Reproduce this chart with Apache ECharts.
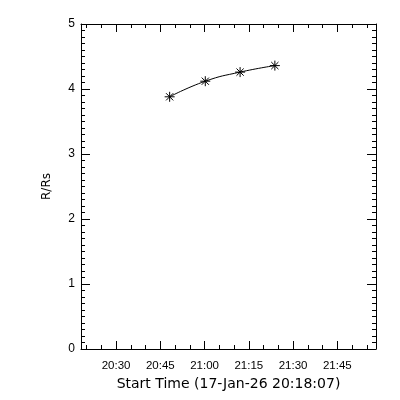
<!DOCTYPE html>
<html>
<head>
<meta charset="utf-8">
<script src="https://cdn.jsdelivr.net/npm/echarts@6/dist/echarts.min.js"></script>
<style>html,body{margin:0;padding:0;background:#fff}#c{width:400px;height:400px}</style>
</head>
<body>
<div id="c"></div>
<script>
// Data
const startTime = '20:18:07';
const endTime = '21:58:07';
const tickLabels = ['20:30', '20:45', '21:00', '21:15', '21:30', '21:45'];
const minorTickTimes = ['20:20','20:25','20:35','20:40','20:50','20:55','21:05','21:10','21:20','21:25','21:35','21:40','21:50','21:55'];
const obsTimes = ['20:48:10', '21:00:15', '21:12:03', '21:23:50'];
const radii = [3.88, 4.12, 4.26, 4.36];
const yTicks = [0, 1, 2, 3, 4, 5];

function toMin(s) { // minutes after 20:00
  const p = s.split(':').map(Number);
  return (p[0] - 20) * 60 + p[1] + (p[2] || 0) / 60;
}
function fmt(v) {
  const tot = Math.round(v);
  const h = 20 + Math.floor(tot / 60), m = tot % 60;
  return h + ':' + String(m).padStart(2, '0');
}
const xMin = toMin(startTime), xMax = toMin(endTime);
const majors = tickLabels.map(toMin);
const minors = minorTickTimes.map(toMin);
const seriesData = obsTimes.map((t, i) => [toMin(t), radii[i]]);

const black = '#000';
const baseX = {
  type: 'value', min: xMin, max: xMax, splitLine: { show: false },
  axisLine: { show: true, onZero: false, lineStyle: { color: black, width: 1 } }
};
const labelFont = { color: black, fontFamily: 'Liberation Sans', fontSize: 11.5 };

const option = {
  animation: false,
  backgroundColor: '#fff',
  grid: { left: 81, right: 24, top: 24, bottom: 51 },
  xAxis: [
    Object.assign({}, baseX, {
      position: 'bottom',
      axisTick: { show: true, inside: true, length: 8, customValues: majors, lineStyle: { color: black } },
      axisLabel: Object.assign({ show: true, customValues: majors, margin: 11, formatter: fmt }, labelFont),
      name: 'Start Time (17-Jan-26 ' + startTime + ')',
      nameLocation: 'middle', nameGap: 26,
      nameTextStyle: { color: black, fontFamily: 'DejaVu Sans', fontSize: 14 }
    }),
    Object.assign({}, baseX, {
      position: 'bottom',
      axisLine: { show: false, onZero: false },
      axisTick: { show: true, inside: true, length: 4, customValues: minors, lineStyle: { color: black } },
      axisLabel: { show: false }
    }),
    Object.assign({}, baseX, {
      position: 'top',
      axisTick: { show: true, inside: true, length: 8, customValues: majors, lineStyle: { color: black } },
      axisLabel: { show: false }
    }),
    Object.assign({}, baseX, {
      position: 'top',
      axisLine: { show: false, onZero: false },
      axisTick: { show: true, inside: true, length: 4, customValues: minors, lineStyle: { color: black } },
      axisLabel: { show: false }
    })
  ],
  yAxis: [
    {
      type: 'value', position: 'left', min: yTicks[0], max: yTicks[yTicks.length - 1], interval: 1,
      splitLine: { show: false },
      axisLine: { show: true, onZero: false, lineStyle: { color: black } },
      axisTick: { show: true, inside: true, length: 9, lineStyle: { color: black } },
      minorTick: { show: true, splitNumber: 10, length: 4, lineStyle: { color: black } },
      axisLabel: { margin: 6, fontSize: 12, color: black, fontFamily: 'Liberation Sans' },
      name: 'R/Rs', nameLocation: 'middle', nameGap: 28,
      nameTextStyle: { color: black, fontFamily: 'DejaVu Sans', fontSize: 12 }
    },
    {
      type: 'value', position: 'right', min: yTicks[0], max: yTicks[yTicks.length - 1], interval: 1,
      splitLine: { show: false },
      axisLine: { show: true, onZero: false, lineStyle: { color: black } },
      axisTick: { show: true, inside: true, length: 9, lineStyle: { color: black } },
      minorTick: { show: true, splitNumber: 10, length: 4, lineStyle: { color: black } },
      axisLabel: { show: false }
    }
  ],
  series: [{
    type: 'line', xAxisIndex: 0, yAxisIndex: 0,
    data: seriesData, smooth: true,
    symbol: 'path://M0,-1L0,1M-1,0L1,0M-0.72,-0.72L0.72,0.72M-0.72,0.72L0.72,-0.72',
    symbolSize: 10,
    itemStyle: { color: black, borderColor: black, borderWidth: 1 },
    lineStyle: { color: black, width: 1 }
  }]
};
const chart = echarts.init(document.getElementById('c'), null, { renderer: 'canvas' });
chart.setOption(option);
</script>
</body>
</html>
